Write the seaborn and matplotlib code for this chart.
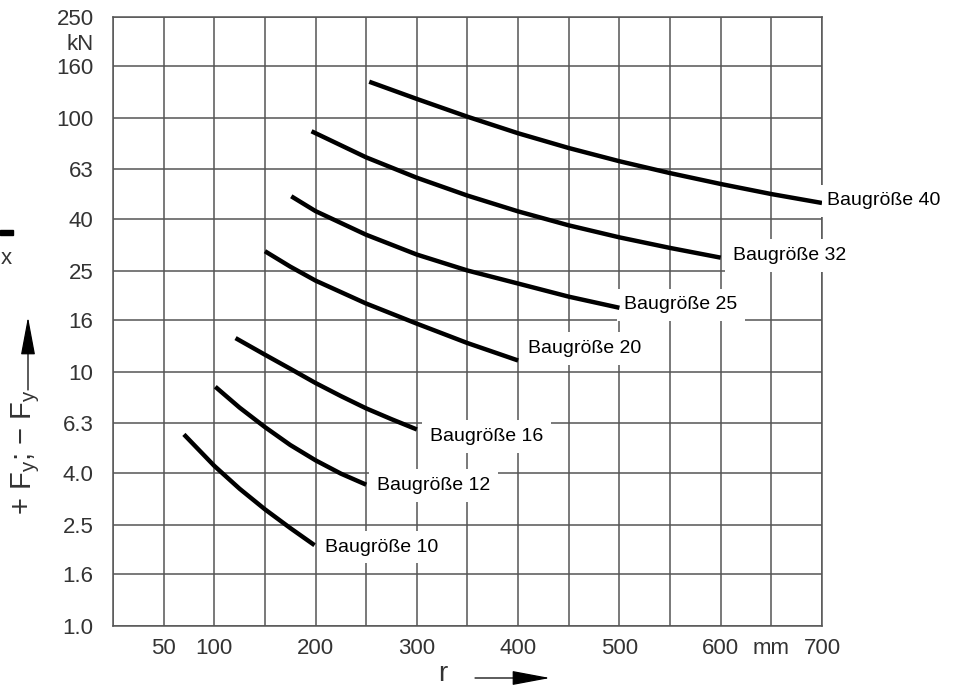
import matplotlib
matplotlib.use("Agg")
import matplotlib.pyplot as plt
from matplotlib.ticker import FixedLocator, FixedFormatter, NullLocator
from matplotlib.patches import Rectangle
import pandas as pd
import seaborn as sns

# r in mm, force in kN
r_10 = [70, 100, 125, 150, 175, 199]
f_10 = [5.68, 4.27, 3.47, 2.88, 2.43, 2.08]
r_12 = [101, 125, 150, 175, 200, 225, 250]
f_12 = [8.75, 7.24, 6.07, 5.16, 4.49, 3.98, 3.6]
r_16 = [121, 150, 175, 200, 225, 250, 275, 300]
f_16 = [13.6, 11.7, 10.3, 9.05, 8.04, 7.19, 6.52, 5.94]
r_20 = [150, 175, 200, 250, 300, 350, 400]
f_20 = [29.9, 26.0, 22.9, 18.6, 15.5, 13.0, 11.1]
r_25 = [176, 200, 250, 300, 350, 400, 450, 500]
f_25 = [49.2, 43.0, 34.7, 29.0, 25.1, 22.3, 19.8, 17.9]
r_32 = [196, 250, 300, 350, 400, 450, 500, 550, 600]
f_32 = [88.7, 70.0, 58.2, 49.5, 42.9, 37.8, 33.9, 30.8, 28.2]
r_40 = [253, 300, 350, 400, 450, 500, 550, 600, 650, 700]
f_40 = [139, 118.9, 101.2, 87.1, 76.2, 67.6, 60.7, 55.0, 50.2, 46.3]

sizes = ["Baugröße 10", "Baugröße 12", "Baugröße 16", "Baugröße 20",
         "Baugröße 25", "Baugröße 32", "Baugröße 40"]
curves_r = [r_10, r_12, r_16, r_20, r_25, r_32, r_40]
curves_f = [f_10, f_12, f_16, f_20, f_25, f_32, f_40]

y_ticks = [1.0, 1.6, 2.5, 4.0, 6.3, 10, 16, 25, 40, 63, 100, 160, 250]
y_labels = ["1.0", "1.6", "2.5", "4.0", "6.3", "10", "16", "25", "40", "63", "100", "160", "250"]
x_ticks = list(range(0, 701, 50))
x_labels = ["", "50", "100", "", "200", "", "300", "", "400", "", "500", "", "600", "mm", "700"]

# label offsets from curve end (pixels)
label_offsets = {"Baugröße 10": (10, -2), "Baugröße 12": (11, -1), "Baugröße 16": (13, -7),
                 "Baugröße 20": (10, 12), "Baugröße 25": (5, 3), "Baugröße 32": (12, 2),
                 "Baugröße 40": (5, 2)}

rows = []
for name, rr, ff in zip(sizes, curves_r, curves_f):
    for a, b in zip(rr, ff):
        rows.append({"r": a, "F": b, "size": name})
df = pd.DataFrame(rows)

sns.set_theme(style="white")
plt.rcParams["font.family"] = ["Liberation Sans", "DejaVu Sans"]
plt.rcParams["mathtext.fontset"] = "custom"
plt.rcParams["mathtext.rm"] = "Liberation Sans"

grid_c = "#555555"
text_c = "#333333"

fig = plt.figure(figsize=(9.65, 6.93), dpi=100)
ax = fig.add_axes([0.1171, 0.0967, 0.7347, 0.8788])

sns.lineplot(data=df, x="r", y="F", hue="size", palette=["black"] * len(sizes),
             sort=False, legend=False, linewidth=3.2, ax=ax, zorder=4)
for ln in ax.lines:
    ln.set_solid_capstyle("butt")
    ln.set_solid_joinstyle("round")

ax.set_yscale("log")
ax.set_xlim(0, 700)
ax.set_ylim(1, 250)

ax.yaxis.set_major_locator(FixedLocator(y_ticks))
ax.yaxis.set_major_formatter(FixedFormatter(y_labels))
ax.yaxis.set_minor_locator(FixedLocator([200]))
ax.yaxis.set_minor_formatter(FixedFormatter(["kN"]))
ax.xaxis.set_major_locator(FixedLocator(x_ticks))
ax.xaxis.set_major_formatter(FixedFormatter(x_labels))
ax.xaxis.set_minor_locator(NullLocator())

ax.tick_params(axis="both", which="both", length=0, labelsize=16, labelcolor=text_c)
ax.tick_params(axis="y", which="both", pad=14)
ax.tick_params(axis="x", pad=9)

ax.grid(True, which="major", color=grid_c, linewidth=1.1)
for sp in ax.spines.values():
    sp.set_color(grid_c)
    sp.set_linewidth(1.1)
ax.set_xlabel("")
ax.set_ylabel("")

for name, rr, ff in zip(sizes, curves_r, curves_f):
    ax.annotate(name, xy=(rr[-1], ff[-1]), xytext=label_offsets[name],
                textcoords="offset pixels", ha="left", va="center",
                fontsize=14, color="black", zorder=3, annotation_clip=False,
                bbox=dict(boxstyle="square,pad=0.4", fc="white", ec="none"))

# axis titles with arrows
fig.text(443 / 965, 1 - 674 / 693, "r", fontsize=20, color=text_c, ha="center", va="center")
ax.annotate("", xy=(550, 15), xytext=(475, 15), xycoords="figure pixels",
            textcoords="figure pixels",
            arrowprops=dict(arrowstyle="-|>,head_length=2.4,head_width=0.45",
                            mutation_scale=10, lw=0.9, color="black",
                            shrinkA=0, shrinkB=0))

fig.text(26 / 965, 1 - 452 / 693, "+ F$_\\mathregular{y}$; − F$_\\mathregular{y}$",
         fontsize=21, color=text_c, rotation=90, ha="center", va="center")
ax.annotate("", xy=(28, 376), xytext=(28, 303), xycoords="figure pixels",
            textcoords="figure pixels",
            arrowprops=dict(arrowstyle="-|>,head_length=2.4,head_width=0.45",
                            mutation_scale=10, lw=0.9, color="black",
                            shrinkA=0, shrinkB=0))

# cut-off remains of the F_x label at the left edge
fig.patches.append(Rectangle((0, 1 - 235 / 693), 13 / 965, 5 / 693,
                             transform=fig.transFigure, color="black"))
fig.text(6 / 965, 1 - 258 / 693, "x", fontsize=16, color=text_c, ha="center", va="center")

fig.savefig("out.png", dpi=100)
